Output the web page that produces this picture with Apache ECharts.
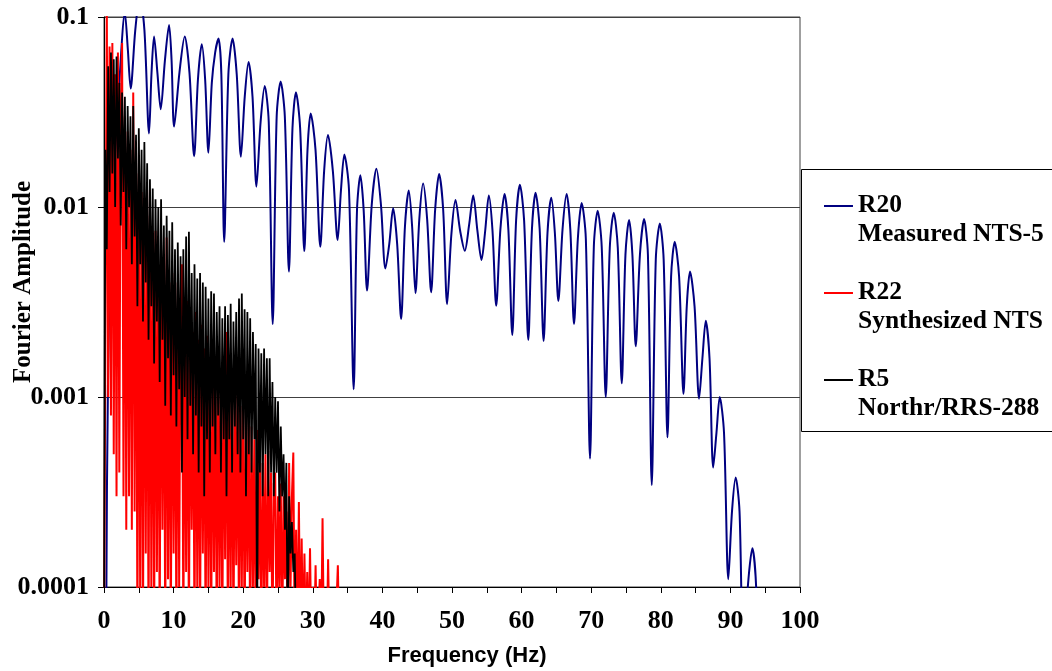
<!DOCTYPE html>
<html><head><meta charset="utf-8">
<script src="https://cdn.jsdelivr.net/npm/echarts@6/dist/echarts.min.js"></script>
<style>html,body{margin:0;padding:0;background:#fff}#c{width:1052px;height:671px}</style>
</head><body><div id="c"></div>
<script>
// ---- data ----
const yTickLabels = ['0.0001', '0.001', '0.01', '0.1'];
const seriesNames = ['R20', 'R22', 'R5'];
const seriesSubtitles = ['Measured NTS-5', 'Synthesized NTS', 'Northr/RRS-288'];

// R20 Measured NTS-5: [frequency Hz, amplitude]
const blueSpectrum = [
 [0.3,0.00005],[0.6,0.0015],[1.3,0.012],[2.2,0.045],[3.0,0.105],[3.42,0.068],[3.83,0.042],[4.49,0.085],[5.15,0.13],[5.81,0.085],
 [6.47,0.0244],[6.83,0.051],[7.19,0.079],[7.67,0.051],[8.15,0.0327],[8.75,0.059],[9.35,0.0908],[9.71,0.059],[10.07,0.0265],[10.84,0.051],
 [11.6,0.079],[12.28,0.051],[12.95,0.0185],[13.5,0.047],[14.05,0.0718],[14.53,0.047],[15.0,0.0193],[15.49,0.045],[15.97,0.065],[16.45,0.077],
 [16.86,0.05],[17.27,0.00656],[17.87,0.05],[18.47,0.077],[19.07,0.05],[19.67,0.0184],[20.22,0.038],[20.77,0.058],[21.34,0.038],[21.9,0.0128],
 [22.5,0.028],[23.09,0.0433],[23.67,0.028],[24.24,0.00242],[24.81,0.03],[25.38,0.0457],[25.98,0.03],[26.57,0.00457],[27.08,0.026],[27.58,0.0402],
 [28.18,0.026],[28.78,0.00586],[29.24,0.02],[29.7,0.0311],[30.39,0.02],[31.08,0.00618],[31.63,0.0155],[32.18,0.0239],[32.88,0.0155],[33.57,0.0067],
 [34.05,0.0123],[34.53,0.0189],[35.2,0.0123],[35.87,0.0011],[36.35,0.0096],[36.83,0.0147],[37.31,0.0096],[37.79,0.00363],[38.47,0.0103],[39.14,0.0159],
 [39.79,0.0103],[40.43,0.00475],[40.99,0.0064],[41.54,0.00984],[42.12,0.0064],[42.69,0.00257],[43.24,0.0079],[43.79,0.0122],[44.27,0.0079],[44.75,0.00352],
 [45.3,0.0086],[45.85,0.0133],[46.43,0.0086],[47.0,0.00356],[47.58,0.0097],[48.15,0.0149],[48.73,0.0097],[49.3,0.00308],[49.9,0.0071],[50.5,0.0109],
 [51.17,0.0075],[51.84,0.00589],[52.45,0.008],[53.05,0.0115],[53.65,0.0075],[54.24,0.00526],[54.77,0.0075],[55.29,0.0115],[55.82,0.0075],[56.35,0.00302],
 [56.95,0.0076],[57.55,0.0117],[58.1,0.0076],[58.66,0.00212],[59.21,0.0085],[59.76,0.0131],[60.36,0.0085],[60.96,0.002],[61.49,0.0077],[62.01,0.0119],
 [62.59,0.0077],[63.16,0.00197],[63.72,0.0073],[64.27,0.0112],[64.78,0.0073],[65.28,0.0032],[65.88,0.0076],[66.47,0.0117],[67.0,0.0076],[67.53,0.00242],
 [68.08,0.0068],[68.63,0.0105],[69.23,0.0068],[69.83,0.000475],[70.38,0.0062],[70.93,0.00957],[71.51,0.0062],[72.09,0.001],[72.67,0.0061],[73.24,0.00934],
 [73.82,0.0061],[74.39,0.00118],[74.92,0.0056],[75.44,0.00855],[75.92,0.0056],[76.4,0.00185],[77.0,0.0056],[77.6,0.00865],[78.15,0.0056],[78.7,0.000344],
 [79.28,0.0053],[79.86,0.0082],[80.41,0.0053],[80.96,0.000614],[81.48,0.0043],[82.0,0.00656],[82.63,0.0043],[83.26,0.00104],[83.73,0.003],[84.2,0.00457],
 [84.85,0.003],[85.5,0.00098],[85.98,0.0016],[86.46,0.00252],[87.0,0.0016],[87.53,0.000425],[88.0,0.00065],[88.47,0.001],[89.08,0.00065],[89.7,0.00011],
 [90.23,0.00025],[90.76,0.000377],[91.31,0.00025],[91.86,0.00004],[92.5,0.0001],[93.16,0.00016],[93.7,0.0001],[94.2,0.00002]
];

// R22 Synthesized NTS: amplitude every 0.2 Hz from 0 Hz
const redStep = 0.2;
const redAmp = [
 5e-5,0.002,0.12,0.001,0.07,0.0008,0.073,0.0005,0.05,0.0003,
 0.065,0.0004,0.03,0.073,0.0003,0.03,0.0002,0.025,0.0003,0.02,
 0.0002,0.04,0.00025,0.021,5e-5,0.015,8e-5,0.012,5e-5,0.01,
 0.00015,0.009,5e-5,0.0123,0.0001,0.006,5e-5,0.0075,0.00012,0.005,
 5e-5,0.006,0.0002,0.0045,5e-5,0.0069,0.00011,0.004,5e-5,0.0045,
 0.00015,0.0035,5e-5,0.004,0.0001,0.003,0.005,5e-5,0.0028,0.00012,
 0.0032,5e-5,0.0025,0.0002,0.0022,5e-5,0.0028,0.0001,0.002,5e-5,
 0.0024,0.00015,0.0018,5e-5,0.0021,0.0001,0.0016,5e-5,0.0019,0.00012,
 0.0015,5e-5,0.0017,0.0001,0.0013,5e-5,0.0016,0.00014,0.0022,5e-5,
 0.0012,0.0001,0.0014,5e-5,0.0011,0.00013,0.0013,5e-5,0.0009,0.0001,
 0.0011,5e-5,0.0008,0.00012,0.0009,5e-5,0.0007,0.0001,0.0006,5e-5,
 0.00067,0.00011,0.0005,5e-5,0.00045,0.0001,0.0005,5e-5,0.00052,0.00012,
 0.0004,5e-5,0.00035,0.0004,5e-5,0.0003,0.0001,0.00035,5e-5,0.0003,
 0.00011,0.00025,5e-5,0.00045,0.0001,0.0003,0.00051,5e-5,0.0002,5e-5,
 0.00028,5e-5,0.00018,5e-5,0.00015,5e-5,0.00012,5e-5,0.00016,5e-5,
 0.0001,5e-5,0.00013,5e-5,5e-5,0.00011,5e-5,0.00023,5e-5,5e-5,
 5e-5,0.00014,5e-5,5e-5,5e-5,5e-5,5e-5,5e-5,0.00013,5e-5
];

// R5 Northr/RRS-288: amplitude every 0.2 Hz from 0 Hz
const blackStep = 0.2;
const blackAmp = [
 5e-5,0.02,0.006,0.055,0.012,0.065,0.015,0.06,0.01,0.062,
 0.018,0.045,0.008,0.04,0.012,0.038,0.006,0.034,0.01,0.03,
 0.005,0.034,0.007,0.024,0.003,0.026,0.005,0.02,0.0025,0.022,
 0.004,0.017,0.002,0.014,0.003,0.0125,0.0015,0.011,0.0025,0.01,
 0.0012,0.011,0.002,0.008,0.0009,0.009,0.0016,0.0075,0.0008,0.0083,
 0.0013,0.006,0.0007,0.0065,0.0011,0.0055,0.0004,0.006,0.001,0.007,
 0.0006,0.0074,0.0009,0.0045,0.0005,0.005,0.0008,0.0042,0.0004,0.0045,
 0.0007,0.004,0.0003,0.0038,0.0006,0.0033,0.0004,0.0036,0.0007,0.0035,
 0.0005,0.0028,0.0008,0.003,0.0004,0.0026,0.0006,0.003,0.0003,0.0027,
 0.0006,0.0031,0.0004,0.0025,0.0007,0.0028,0.0005,0.0033,0.0004,0.0035,
 0.0006,0.0029,0.0003,0.0028,0.0005,0.0026,0.0004,0.0022,0.0006,0.0019,
 5e-5,0.0018,0.0004,0.0017,0.0003,0.0018,0.0005,0.0016,0.0003,0.0016,
 0.0004,0.0012,0.0003,0.001,0.0004,0.00095,0.00025,0.0007,0.0003,0.0005,
 0.0002,0.00045,5e-5,0.0003,0.00015,0.00022,0.00012,0.00015,5e-5
];

// ---- build chart ----
const toPairs = (arr, step) => arr.map((v, i) => [Math.round(i * step * 10) / 10, v]);
const serifBold = { fontFamily: 'Liberation Serif', fontWeight: 'bold', color: '#000' };

const chart = echarts.init(document.getElementById('c'), null, { renderer: 'canvas' });
chart.setOption({
  animation: false,
  backgroundColor: '#fff',
  grid: { left: 104, top: 17, width: 696, height: 570, show: true, borderColor: '#404040', borderWidth: 1,
          containLabel: false, outerBoundsMode: 'none' },
  xAxis: {
    type: 'value', min: 0, max: 100, interval: 10,
    axisLine: { lineStyle: { color: '#000', width: 1 } },
    axisTick: { show: true, length: 6, lineStyle: { color: '#000' } },
    minorTick: { show: true, splitNumber: 2, length: 6, lineStyle: { color: '#000' } },
    splitLine: { show: false },
    axisLabel: Object.assign({ fontSize: 26, margin: 21 }, serifBold),
    name: 'Frequency (Hz)', nameLocation: 'middle', nameGap: 58, nameMoveOverlap: false,
    nameTextStyle: { fontFamily: 'Liberation Sans', fontWeight: 'bold', fontSize: 22, color: '#000',
                     padding: [0, 0, 0, 30] }
  },
  yAxis: {
    type: 'log', logBase: 10, min: 0.0001, max: 0.1,
    axisLine: { show: true, lineStyle: { color: '#000', width: 1 } },
    axisTick: { show: true, length: 6, lineStyle: { color: '#000' } },
    splitLine: { show: true, lineStyle: { color: '#404040', width: 1 } },
    axisLabel: Object.assign({ fontSize: 26, margin: 15,
      formatter: v => yTickLabels[Math.round(Math.log10(v)) + 4] }, serifBold),
    name: 'Fourier Amplitude', nameLocation: 'middle', nameRotate: 90, nameGap: 68, nameMoveOverlap: false,
    nameTextStyle: Object.assign({ fontSize: 25, padding: [0, 0, 0, 40] }, serifBold)
  },
  legend: {
    orient: 'vertical', left: 819, top: 186,
    itemWidth: 29, itemHeight: 58, itemGap: 29,
    icon: 'path://M0,14H29V16H0Z M0,0H0.05V0.05H0Z M0,58H0.05V58.05H0Z',
    itemStyle: { borderWidth: 0 },
    selectedMode: false,
    formatter: name => name + '\n' + seriesSubtitles[seriesNames.indexOf(name)],
    textStyle: Object.assign({ fontSize: 25.5, lineHeight: 29 }, serifBold),
    z: 6
  },
  graphic: [{
    type: 'rect', z: 1,
    shape: { x: 801.5, y: 169.5, width: 300, height: 262 },
    style: { fill: '#fff', stroke: '#000', lineWidth: 1 }
  }],
  series: [
    { type: 'line', name: seriesNames[0], data: blueSpectrum, symbol: 'none', smooth: 0.3,
      color: '#000080', lineStyle: { color: '#000080', width: 2 }, itemStyle: { color: '#000080' }, z: 2 },
    { type: 'line', name: seriesNames[1], data: toPairs(redAmp, redStep), symbol: 'none',
      color: '#ff0000', lineStyle: { color: '#ff0000', width: 2 }, itemStyle: { color: '#ff0000' }, z: 3 },
    { type: 'line', name: seriesNames[2], data: toPairs(blackAmp, blackStep), symbol: 'none',
      color: '#000000', lineStyle: { color: '#000000', width: 1.8 }, itemStyle: { color: '#000000' }, z: 4 }
  ]
});
</script>
</body></html>
